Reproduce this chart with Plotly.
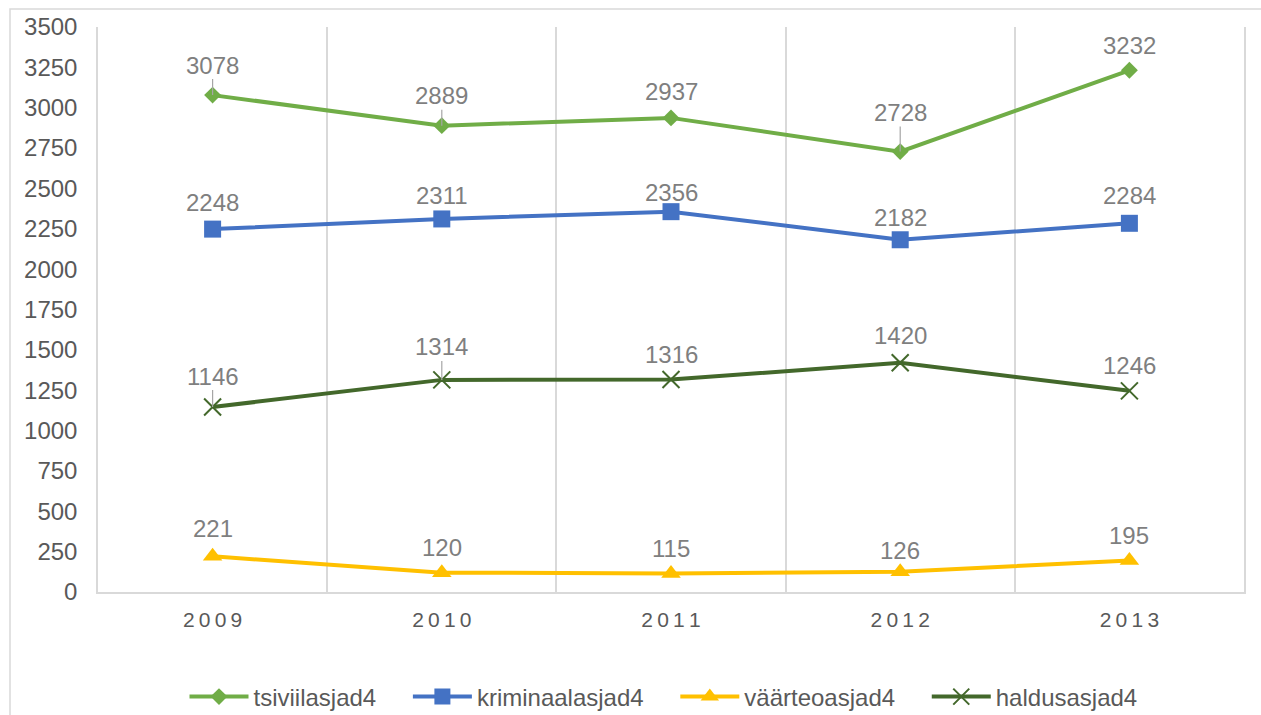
import plotly.graph_objects as go

years = ["2009", "2010", "2011", "2012", "2013"]
series_names = ["tsiviilasjad4", "kriminaalasjad4", "väärteoasjad4", "haldusasjad4"]
tsiviil = [3078, 2889, 2937, 2728, 3232]
kriminaal = [2248, 2311, 2356, 2182, 2284]
vaarteo = [221, 120, 115, 126, 195]
haldus = [1146, 1314, 1316, 1420, 1246]
y_ticks = list(range(0, 3501, 250))

# styles
colors = ["#70AD47", "#4472C4", "#FFC000", "#43682B"]
symbols = ["diamond", "square", "triangle-up", "x-thin"]
msizes = [13, 17, 17, 17]
label_offsets = [
    [-30, -30, -26, -39, -25],
    [-27, -23, -19, -22, -28],
    [-28, -25, -25, -21, -25],
    [-31, -33, -25, -27, -25],
]
leader = [
    [True, True, False, True, False],
    [False] * 5,
    [False] * 5,
    [True, True, False, False, False],
]

all_values = [tsiviil, kriminaal, vaarteo, haldus]
xs = list(range(len(years)))
FONT = "Liberation Sans, Arial, sans-serif"

fig = go.Figure()
annotations = []
for s, (name, vals) in enumerate(zip(series_names, all_values)):
    marker = dict(symbol=symbols[s], size=msizes[s], color=colors[s])
    if symbols[s] == "x-thin":
        marker["line"] = dict(color=colors[s], width=2)
    fig.add_trace(go.Scatter(
        x=xs, y=vals, name=name + "\u00a0" * 4, mode="lines+markers",
        line=dict(color=colors[s], width=4),
        marker=marker,
        hoverinfo="skip",
    ))
    for i, v in enumerate(vals):
        annotations.append(dict(
            x=xs[i], y=v, xref="x", yref="y", text=str(v),
            showarrow=True, ax=0, ay=label_offsets[s][i],
            arrowhead=0, arrowwidth=1.2,
            arrowcolor="#A6A6A6" if leader[s][i] else "rgba(0,0,0,0)",
            standoff=0, startstandoff=0, borderpad=0,
            font=dict(family=FONT, size=24, color="#7F7F7F"),
        ))

W, H = 1261, 715
ml, mr, mt, mb = 98, 17, 27, 123
pw, ph = W - ml - mr, H - mt - mb

def px_x(p):
    return (p - ml) / pw

def px_y(p):
    return (H - mb - p) / ph

fig.update_layout(
    width=W, height=H,
    margin=dict(l=ml, r=mr, t=mt, b=mb, pad=0, autoexpand=False),
    paper_bgcolor="white", plot_bgcolor="white",
    font=dict(family=FONT, color="#595959"),
    annotations=annotations,
    showlegend=True,
    legend=dict(
        orientation="h", x=px_x(677), xanchor="center", y=px_y(697), yanchor="middle",
        font=dict(size=24, color="#595959"), itemwidth=59, traceorder="normal",
        bgcolor="rgba(0,0,0,0)",
    ),
    xaxis=dict(
        range=[-0.5, 4.5], tickmode="array", tickvals=xs,
        ticktext=["\u2009".join(list(y)) for y in years],
        tickfont=dict(size=21, color="#595959"),
        showgrid=False, zeroline=False,
        showline=True, linecolor="#D9D9D9", linewidth=1.5,
        ticks="", ticklabelstandoff=8,
        minor=dict(tickmode="linear", tick0=0.5, dtick=1, showgrid=True,
                   gridcolor="#D9D9D9", gridwidth=1.5, ticks=""),
        fixedrange=True,
    ),
    yaxis=dict(
        range=[0, 3500], tickmode="array", tickvals=y_ticks,
        ticktext=[str(v) for v in y_ticks],
        tickfont=dict(size=24, color="#595959"),
        showgrid=False, zeroline=False,
        showline=True, mirror=True, linecolor="#D9D9D9", linewidth=1.5,
        ticks="", ticklabelstandoff=14,
        fixedrange=True,
    ),
    shapes=[dict(
        type="rect", xref="paper", yref="paper",
        x0=px_x(10), x1=px_x(1275), y0=px_y(730), y1=px_y(9),
        line=dict(color="#D9D9D9", width=1.5), fillcolor="rgba(0,0,0,0)", layer="below",
    )],
)

fig.write_html(
    "out.html",
    config={"displayModeBar": False},
    post_script="document.body.style.margin='0';document.body.style.overflow='hidden';",
)
